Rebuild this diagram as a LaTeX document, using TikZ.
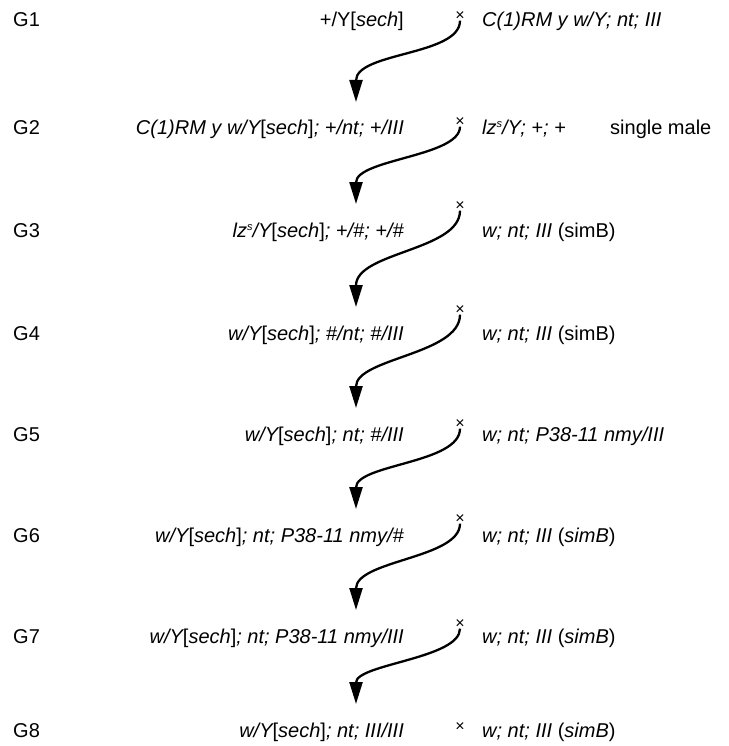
\documentclass[tikz,border=0pt]{standalone}
\usepackage{fontspec}
\setmainfont{Liberation Sans}
\usepackage{tikz}
\usetikzlibrary{arrows.meta,positioning}

\newcommand{\lzs}{lz\raisebox{7pt}{\fontsize{11}{11}\selectfont s}}

\begin{document}
\begin{tikzpicture}[x=1pt, y=-1pt,
		every node/.style = {inner sep=0pt, font=\fontsize{20}{24}\selectfont},
		gen/.style = {anchor=base west},
		lhs/.style = {anchor=base east, font=\fontsize{20}{24}\selectfont\itshape},
		rhs/.style = {anchor=base west, font=\fontsize{20}{24}\selectfont\itshape},
		cross/.style = {font=\fontsize{16}{16}\selectfont},
		mate/.style = {line width=2.3pt, -{Triangle[length=22pt, width=13pt]}}]
	\useasboundingbox (0,0) rectangle (728,746);

	\node [gen] (g1) at (13,27) {G1};
	\node [lhs] (l1) at (404,27) {\upshape +/Y[\textit{sech}]};
	\node [cross] (x1) at (460,16) {×};
	\node [rhs] (r1) at (482,27) {C(1)RM y w/Y; nt; III};
	\coordinate (t1) at (356,102);

	\node [gen] (g2) at (13,135) {G2};
	\node [lhs] (l2) at (404,135) {C(1)RM y w/Y\upshape[\textit{sech}]\itshape; +/nt; +/III};
	\node [cross] (x2) at (460,122) {×};
	\node [rhs] (r2) at (482,135) {\lzs/Y; +; +};
	\node [gen] (s2) at (610,135) {single male};
	\coordinate (t2) at (356,204);

	\node [gen] (g3) at (13,237) {G3};
	\node [lhs] (l3) at (404,237) {\lzs/Y\upshape[\textit{sech}]\itshape; +/\#; +/\#};
	\node [cross] (x3) at (460,206) {×};
	\node [rhs] (r3) at (482,237) {w; nt; III \upshape(simB)};
	\coordinate (t3) at (356,307);

	\node [gen] (g4) at (13,340) {G4};
	\node [lhs] (l4) at (404,340) {w/Y\upshape[\textit{sech}]\itshape; \#/nt; \#/III};
	\node [cross] (x4) at (460,310) {×};
	\node [rhs] (r4) at (482,340) {w; nt; III \upshape(simB)};
	\coordinate (t4) at (356,408);

	\node [gen] (g5) at (13,441) {G5};
	\node [lhs] (l5) at (404,441) {w/Y\upshape[\textit{sech}]\itshape; nt; \#/III};
	\node [cross] (x5) at (460,424) {×};
	\node [rhs] (r5) at (482,441) {w; nt; P38-11 nmy/III};
	\coordinate (t5) at (356,509);

	\node [gen] (g6) at (13,542) {G6};
	\node [lhs] (l6) at (404,542) {w/Y\upshape[\textit{sech}]\itshape; nt; P38-11 nmy/\#};
	\node [cross] (x6) at (460,519) {×};
	\node [rhs] (r6) at (482,542) {w; nt; III \upshape(\textit{simB})};
	\coordinate (t6) at (356,610);

	\node [gen] (g7) at (13,643) {G7};
	\node [lhs] (l7) at (404,643) {w/Y\upshape[\textit{sech}]\itshape; nt; P38-11 nmy/III};
	\node [cross] (x7) at (460,624) {×};
	\node [rhs] (r7) at (482,643) {w; nt; III \upshape(\textit{simB})};
	\coordinate (t7) at (356,704);

	\node [gen] (g8) at (13,737) {G8};
	\node [lhs] (l8) at (404,737) {w/Y\upshape[\textit{sech}]\itshape; nt; III/III};
	\node [cross] (x8) at (460,727) {×};
	\node [rhs] (r8) at (482,737) {w; nt; III \upshape(\textit{simB})};

	\draw [mate] (x1.south) .. controls +(0,35) and +(0,-50) .. (t1);
	\draw [mate] (x2.south) .. controls +(0,30) and +(0,-45) .. (t2);
	\draw [mate] (x3.south) .. controls +(0,40) and +(0,-55) .. (t3);
	\draw [mate] (x4.south) .. controls +(0,40) and +(0,-50) .. (t4);
	\draw [mate] (x5.south) .. controls +(0,35) and +(0,-45) .. (t5);
	\draw [mate] (x6.south) .. controls +(0,35) and +(0,-50) .. (t6);
	\draw [mate] (x7.south) .. controls +(0,30) and +(0,-40) .. (t7);
\end{tikzpicture}
\end{document}
